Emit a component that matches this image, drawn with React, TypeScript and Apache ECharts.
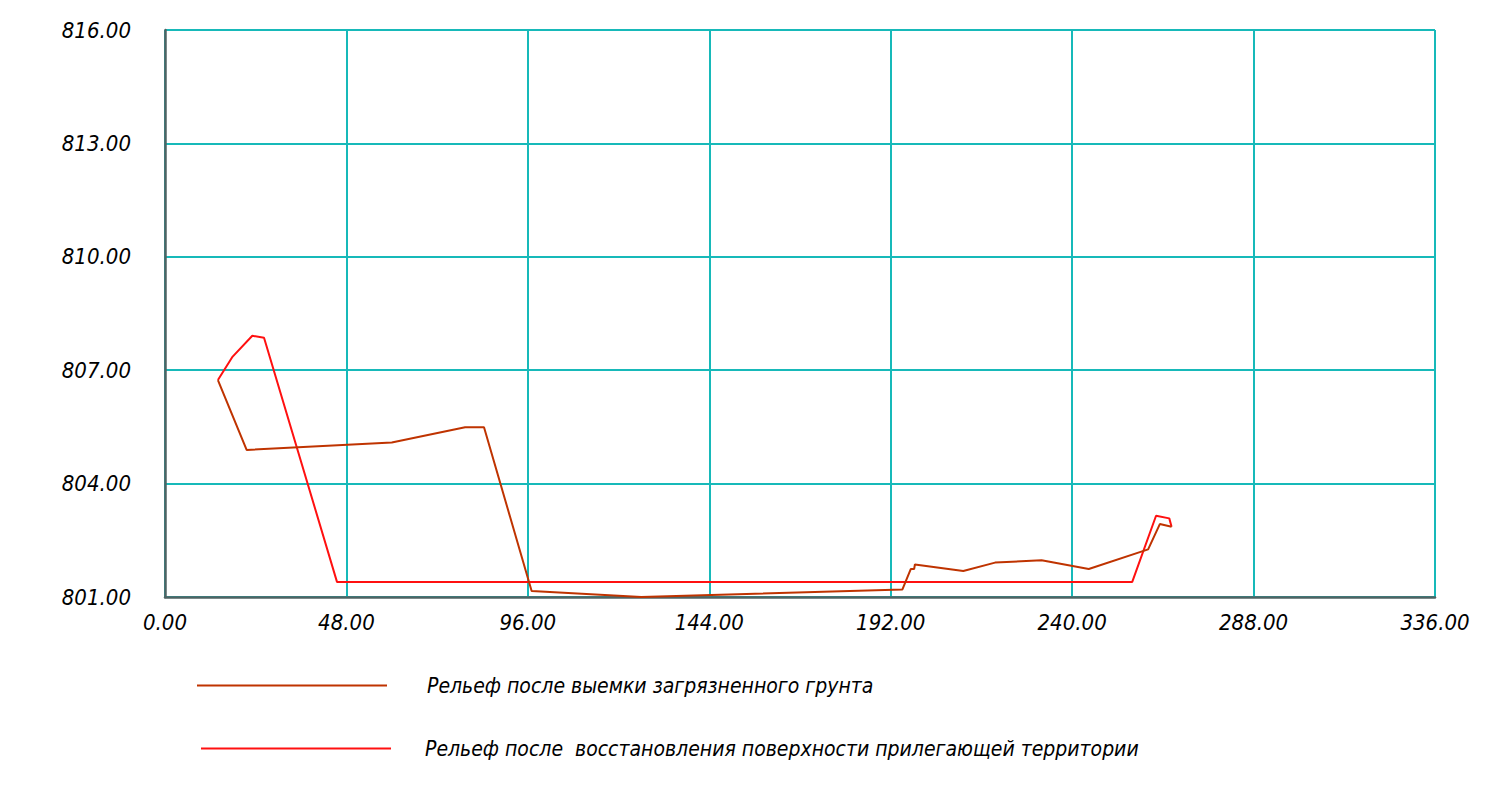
import React, { useEffect, useRef } from "react";
import * as echarts from "echarts";

const seriesNames = [
  "Рельеф после выемки загрязненного грунта",
  "Рельеф после  восстановления поверхности прилегающей территории",
];

// distance, elevation
const excavationX = [14.0, 21.6, 60.0, 79.4, 84.4, 97.0, 126.0, 195.1, 197.3, 198.2, 198.4, 211.2, 219.6, 231.9, 244.4, 260.1, 263.2, 266.3];
const excavationY = [806.74, 804.89, 805.09, 805.49, 805.49, 801.16, 801.0, 801.2, 801.74, 801.74, 801.86, 801.69, 801.91, 801.97, 801.74, 802.26, 802.93, 802.86];

const restoredX = [14.0, 17.9, 23.1, 26.2, 45.5, 255.9, 262.2, 265.7, 266.3];
const restoredY = [806.74, 807.36, 807.91, 807.86, 801.4, 801.4, 803.15, 803.08, 802.86];

const xMin = 0, xMax = 336, xStep = 48;
const yMin = 801, yMax = 816, yStep = 3;

const FONT = '"Liberation Sans Narrow", "DejaVu Sans Condensed", "Noto Sans", sans-serif';

export default function App() {
  const ref = useRef<HTMLDivElement>(null);
  useEffect(() => {
    if (!ref.current) return;
    const chart = echarts.init(ref.current, undefined, { renderer: "svg" });
    const zip = (xs: number[], ys: number[]) => xs.map((x, i) => [x, ys[i]]);
    const legendText = (pad: number) => ({
      color: "#000",
      fontFamily: FONT,
      fontStyle: "italic" as const,
      fontSize: 21,
      padding: [0, 0, 0, pad],
    });
    chart.setOption({
      animation: false,
      backgroundColor: "#fff",
      grid: { left: 165, right: 50, top: 30, bottom: 197 },
      legend: [
        {
          data: [seriesNames[0]],
          left: 197,
          top: 675,
          padding: 0,
          icon: "rect",
          itemWidth: 190,
          itemHeight: 2,
          textStyle: legendText(35),
          selectedMode: false,
        },
        {
          data: [seriesNames[1]],
          left: 201,
          top: 738,
          padding: 0,
          icon: "rect",
          itemWidth: 190,
          itemHeight: 2,
          textStyle: legendText(29),
          selectedMode: false,
        },
      ],
      xAxis: {
        type: "value",
        min: xMin,
        max: xMax,
        interval: xStep,
        axisLine: { show: true, onZero: false, lineStyle: { color: "#4f6363", width: 2.5 } },
        axisTick: { show: false },
        axisLabel: {
          formatter: (v: number) => v.toFixed(2),
          color: "#000",
          fontFamily: FONT,
          fontStyle: "italic",
          fontSize: 22,
          margin: 14,
        },
        splitLine: { show: true, lineStyle: { color: "#17b9b9", width: 2 } },
      },
      yAxis: {
        type: "value",
        min: yMin,
        max: yMax,
        interval: yStep,
        axisLine: { show: true, onZero: false, lineStyle: { color: "#4f6363", width: 2.5 } },
        axisTick: { show: false },
        axisLabel: {
          formatter: (v: number) => v.toFixed(2),
          color: "#000",
          fontFamily: FONT,
          fontStyle: "italic",
          fontSize: 22,
          margin: 34,
        },
        splitLine: { show: true, lineStyle: { color: "#17b9b9", width: 2 } },
      },
      series: [
        {
          name: seriesNames[1],
          type: "line",
          data: zip(restoredX, restoredY),
          symbol: "none",
          lineStyle: { color: "#ff1010", width: 2 },
          itemStyle: { color: "#ff1010" },
          z: 2,
        },
        {
          name: seriesNames[0],
          type: "line",
          data: zip(excavationX, excavationY),
          symbol: "none",
          lineStyle: { color: "#bf3300", width: 2 },
          itemStyle: { color: "#bf3300" },
          z: 3,
        },
      ],
    });
    return () => chart.dispose();
  }, []);
  return (
    <div
      ref={ref}
      style={{ position: "fixed", left: 0, top: 0, width: 1485, height: 794 }}
    />
  );
}
